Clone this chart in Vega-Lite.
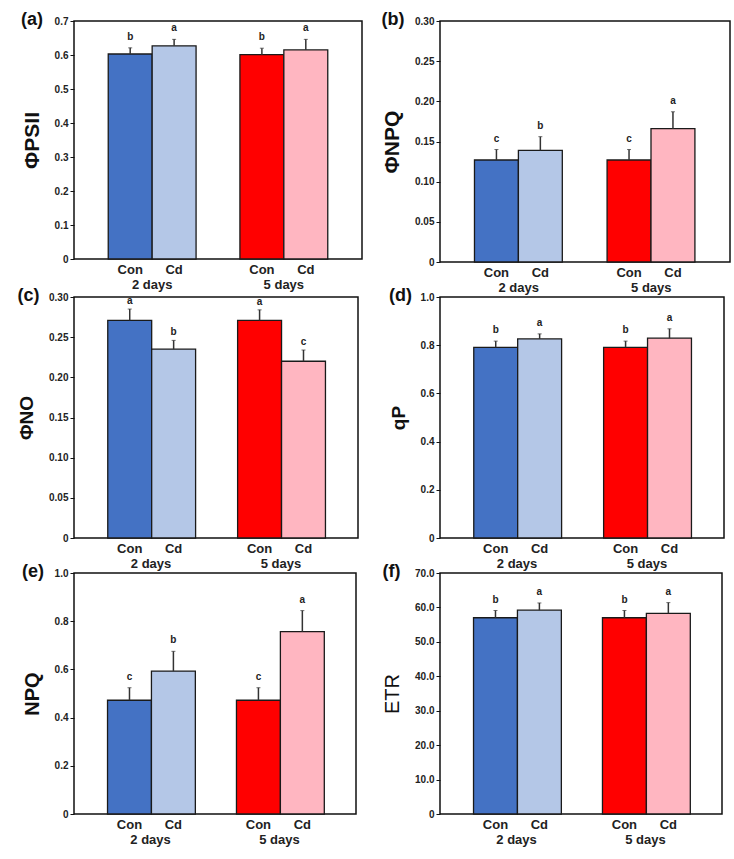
{
  "$schema": "https://vega.github.io/schema/vega-lite/v6.json",
  "background": "white",
  "padding": {"left": 16, "top": 10, "right": 5, "bottom": 5},
  "config": {
    "font": "Liberation Sans",
    "view": {"stroke": "#111", "strokeWidth": 1.5},
    "axis": {"grid": false, "labelFont": "Liberation Sans", "titleFont": "Liberation Sans", "labelColor": "#222", "titleColor": "#111", "labelOverlap": false},
    "title": {"font": "Liberation Sans", "fontSize": 18, "fontWeight": "bold", "color": "#111", "anchor": "start", "frame": "bounds", "offset": -13}
  },
  "datasets": {
    "d": [
      {"panel": "a", "day": "2 days", "trt": "Con", "cond": "Con 2", "mean": 0.603, "hi": 0.621, "letter": "b"},
      {"panel": "a", "day": "2 days", "trt": "Cd", "cond": "Cd 2", "mean": 0.627, "hi": 0.646, "letter": "a"},
      {"panel": "a", "day": "5 days", "trt": "Con", "cond": "Con 5", "mean": 0.601, "hi": 0.620, "letter": "b"},
      {"panel": "a", "day": "5 days", "trt": "Cd", "cond": "Cd 5", "mean": 0.615, "hi": 0.646, "letter": "a"},
      {"panel": "b", "day": "2 days", "trt": "Con", "cond": "Con 2", "mean": 0.127, "hi": 0.140, "letter": "c"},
      {"panel": "b", "day": "2 days", "trt": "Cd", "cond": "Cd 2", "mean": 0.139, "hi": 0.156, "letter": "b"},
      {"panel": "b", "day": "5 days", "trt": "Con", "cond": "Con 5", "mean": 0.127, "hi": 0.140, "letter": "c"},
      {"panel": "b", "day": "5 days", "trt": "Cd", "cond": "Cd 5", "mean": 0.166, "hi": 0.187, "letter": "a"},
      {"panel": "c", "day": "2 days", "trt": "Con", "cond": "Con 2", "mean": 0.271, "hi": 0.285, "letter": "a"},
      {"panel": "c", "day": "2 days", "trt": "Cd", "cond": "Cd 2", "mean": 0.235, "hi": 0.246, "letter": "b"},
      {"panel": "c", "day": "5 days", "trt": "Con", "cond": "Con 5", "mean": 0.271, "hi": 0.284, "letter": "a"},
      {"panel": "c", "day": "5 days", "trt": "Cd", "cond": "Cd 5", "mean": 0.220, "hi": 0.234, "letter": "c"},
      {"panel": "d", "day": "2 days", "trt": "Con", "cond": "Con 2", "mean": 0.791, "hi": 0.817, "letter": "b"},
      {"panel": "d", "day": "2 days", "trt": "Cd", "cond": "Cd 2", "mean": 0.826, "hi": 0.847, "letter": "a"},
      {"panel": "d", "day": "5 days", "trt": "Con", "cond": "Con 5", "mean": 0.791, "hi": 0.817, "letter": "b"},
      {"panel": "d", "day": "5 days", "trt": "Cd", "cond": "Cd 5", "mean": 0.829, "hi": 0.868, "letter": "a"},
      {"panel": "e", "day": "2 days", "trt": "Con", "cond": "Con 2", "mean": 0.472, "hi": 0.524, "letter": "c"},
      {"panel": "e", "day": "2 days", "trt": "Cd", "cond": "Cd 2", "mean": 0.593, "hi": 0.675, "letter": "b"},
      {"panel": "e", "day": "5 days", "trt": "Con", "cond": "Con 5", "mean": 0.472, "hi": 0.524, "letter": "c"},
      {"panel": "e", "day": "5 days", "trt": "Cd", "cond": "Cd 5", "mean": 0.757, "hi": 0.844, "letter": "a"},
      {"panel": "f", "day": "2 days", "trt": "Con", "cond": "Con 2", "mean": 57.0, "hi": 59.1, "letter": "b"},
      {"panel": "f", "day": "2 days", "trt": "Cd", "cond": "Cd 2", "mean": 59.2, "hi": 61.3, "letter": "a"},
      {"panel": "f", "day": "5 days", "trt": "Con", "cond": "Con 5", "mean": 57.0, "hi": 59.1, "letter": "b"},
      {"panel": "f", "day": "5 days", "trt": "Cd", "cond": "Cd 5", "mean": 58.3, "hi": 61.4, "letter": "a"}
    ]
  },
  "columns": 2,
  "bounds": "flush",
  "spacing": {"row": 35, "column": 78},
  "concat": [
    {
      "title": {"text": "(a)"},
      "width": 288, "height": 238,
      "data": {"name": "d"},
      "transform": [{"filter": "datum.panel == 'a'"}],
      "encoding": {
        "x": {"field": "day", "type": "nominal", "scale": {"domain": ["2 days", "5 days"], "paddingInner": 0.333, "paddingOuter": 0.26}, "axis": {"title": null, "labelAngle": 0, "labelFontSize": 13, "labelFontWeight": "bold", "labelPadding": 19, "ticks": false, "domain": false}},
        "xOffset": {"field": "trt", "type": "nominal", "scale": {"domain": ["Con", "Cd"], "paddingInner": 0, "paddingOuter": 0}}
      },
      "layer": [
        {"mark": {"type": "bar", "stroke": "#1a1a1a", "strokeWidth": 1.3},
         "encoding": {
           "y": {"field": "mean", "type": "quantitative", "scale": {"domain": [0, 0.7]}, "axis": {"title": "ΦPSII", "titleFontSize": 21, "titleFontWeight": "bold", "titlePadding": 12, "values": [0, 0.1, 0.2, 0.3, 0.4, 0.5, 0.6, 0.7], "tickCount": 12, "labelOverlap": false, "labelExpr": "datum.value == 0 ? '0' : format(datum.value, '.1f')", "labelFontSize": 10, "labelFontWeight": "bold", "tickSize": 4, "tickColor": "#111", "domain": false}},
           "color": {"field": "cond", "type": "nominal", "scale": {"domain": ["Con 2", "Cd 2", "Con 5", "Cd 5"], "range": ["#4472C4", "#B4C7E7", "#FF0000", "#FFB6C1"]}, "legend": null}}},
        {"mark": {"type": "rule", "color": "#333", "strokeWidth": 1.5}, "encoding": {"y": {"field": "mean", "type": "quantitative"}, "y2": {"field": "hi"}}},
        {"mark": {"type": "tick", "color": "#333", "size": 4, "thickness": 1}, "encoding": {"y": {"field": "hi", "type": "quantitative"}}},
        {"mark": {"type": "text", "fontSize": 10, "fontWeight": "bold", "dy": -8, "baseline": "alphabetic", "color": "#222"}, "encoding": {"y": {"field": "hi", "type": "quantitative"}, "text": {"field": "letter"}}},
        {"mark": {"type": "text", "fontSize": 13, "fontWeight": "bold", "baseline": "top", "dy": 5, "color": "#222"}, "encoding": {"y": {"datum": 0}, "text": {"field": "trt"}}}
      ]
    },
    {
      "title": {"text": "(b)"},
      "width": 290, "height": 241,
      "data": {"name": "d"},
      "transform": [{"filter": "datum.panel == 'b'"}],
      "encoding": {
        "x": {"field": "day", "type": "nominal", "scale": {"domain": ["2 days", "5 days"], "paddingInner": 0.333, "paddingOuter": 0.26}, "axis": {"title": null, "labelAngle": 0, "labelFontSize": 13, "labelFontWeight": "bold", "labelPadding": 19, "ticks": false, "domain": false}},
        "xOffset": {"field": "trt", "type": "nominal", "scale": {"domain": ["Con", "Cd"], "paddingInner": 0, "paddingOuter": 0}}
      },
      "layer": [
        {"mark": {"type": "bar", "stroke": "#1a1a1a", "strokeWidth": 1.3},
         "encoding": {
           "y": {"field": "mean", "type": "quantitative", "scale": {"domain": [0, 0.3]}, "axis": {"title": "ΦNPQ", "titleFontSize": 21, "titleFontWeight": "bold", "titlePadding": 12, "values": [0, 0.05, 0.1, 0.15, 0.2, 0.25, 0.3], "tickCount": 12, "labelOverlap": false, "labelExpr": "datum.value == 0 ? '0' : format(datum.value, '.2f')", "labelFontSize": 10, "labelFontWeight": "bold", "tickSize": 4, "tickColor": "#111", "domain": false}},
           "color": {"field": "cond", "type": "nominal", "scale": {"domain": ["Con 2", "Cd 2", "Con 5", "Cd 5"], "range": ["#4472C4", "#B4C7E7", "#FF0000", "#FFB6C1"]}, "legend": null}}},
        {"mark": {"type": "rule", "color": "#333", "strokeWidth": 1.5}, "encoding": {"y": {"field": "mean", "type": "quantitative"}, "y2": {"field": "hi"}}},
        {"mark": {"type": "tick", "color": "#333", "size": 4, "thickness": 1}, "encoding": {"y": {"field": "hi", "type": "quantitative"}}},
        {"mark": {"type": "text", "fontSize": 10, "fontWeight": "bold", "dy": -8, "baseline": "alphabetic", "color": "#222"}, "encoding": {"y": {"field": "hi", "type": "quantitative"}, "text": {"field": "letter"}}},
        {"mark": {"type": "text", "fontSize": 13, "fontWeight": "bold", "baseline": "top", "dy": 5, "color": "#222"}, "encoding": {"y": {"datum": 0}, "text": {"field": "trt"}}}
      ]
    },
    {
      "title": {"text": "(c)"},
      "width": 284, "height": 241,
      "data": {"name": "d"},
      "transform": [{"filter": "datum.panel == 'c'"}],
      "encoding": {
        "x": {"field": "day", "type": "nominal", "scale": {"domain": ["2 days", "5 days"], "paddingInner": 0.333, "paddingOuter": 0.26}, "axis": {"title": null, "labelAngle": 0, "labelFontSize": 13, "labelFontWeight": "bold", "labelPadding": 19, "ticks": false, "domain": false}},
        "xOffset": {"field": "trt", "type": "nominal", "scale": {"domain": ["Con", "Cd"], "paddingInner": 0, "paddingOuter": 0}}
      },
      "layer": [
        {"mark": {"type": "bar", "stroke": "#1a1a1a", "strokeWidth": 1.3},
         "encoding": {
           "y": {"field": "mean", "type": "quantitative", "scale": {"domain": [0, 0.3]}, "axis": {"title": "ΦNO", "titleFontSize": 19, "titleFontWeight": "bold", "titlePadding": 12, "values": [0, 0.05, 0.1, 0.15, 0.2, 0.25, 0.3], "tickCount": 12, "labelOverlap": false, "labelExpr": "datum.value == 0 ? '0' : format(datum.value, '.2f')", "labelFontSize": 10, "labelFontWeight": "bold", "tickSize": 4, "tickColor": "#111", "domain": false}},
           "color": {"field": "cond", "type": "nominal", "scale": {"domain": ["Con 2", "Cd 2", "Con 5", "Cd 5"], "range": ["#4472C4", "#B4C7E7", "#FF0000", "#FFB6C1"]}, "legend": null}}},
        {"mark": {"type": "rule", "color": "#333", "strokeWidth": 1.5}, "encoding": {"y": {"field": "mean", "type": "quantitative"}, "y2": {"field": "hi"}}},
        {"mark": {"type": "tick", "color": "#333", "size": 4, "thickness": 1}, "encoding": {"y": {"field": "hi", "type": "quantitative"}}},
        {"mark": {"type": "text", "fontSize": 10, "fontWeight": "bold", "dy": -5, "baseline": "alphabetic", "color": "#222"}, "encoding": {"y": {"field": "hi", "type": "quantitative"}, "text": {"field": "letter"}}},
        {"mark": {"type": "text", "fontSize": 13, "fontWeight": "bold", "baseline": "top", "dy": 5, "color": "#222"}, "encoding": {"y": {"datum": 0}, "text": {"field": "trt"}}}
      ]
    },
    {
      "title": {"text": "(d)"},
      "width": 284, "height": 241,
      "data": {"name": "d"},
      "transform": [{"filter": "datum.panel == 'd'"}],
      "encoding": {
        "x": {"field": "day", "type": "nominal", "scale": {"domain": ["2 days", "5 days"], "paddingInner": 0.333, "paddingOuter": 0.26}, "axis": {"title": null, "labelAngle": 0, "labelFontSize": 13, "labelFontWeight": "bold", "labelPadding": 19, "ticks": false, "domain": false}},
        "xOffset": {"field": "trt", "type": "nominal", "scale": {"domain": ["Con", "Cd"], "paddingInner": 0, "paddingOuter": 0}}
      },
      "layer": [
        {"mark": {"type": "bar", "stroke": "#1a1a1a", "strokeWidth": 1.3},
         "encoding": {
           "y": {"field": "mean", "type": "quantitative", "scale": {"domain": [0, 1]}, "axis": {"title": "qP", "titleFontSize": 19, "titleFontWeight": "bold", "titlePadding": 12, "values": [0, 0.2, 0.4, 0.6, 0.8, 1], "tickCount": 12, "labelOverlap": false, "labelExpr": "datum.value == 0 ? '0' : format(datum.value, '.1f')", "labelFontSize": 10, "labelFontWeight": "bold", "tickSize": 4, "tickColor": "#111", "domain": false}},
           "color": {"field": "cond", "type": "nominal", "scale": {"domain": ["Con 2", "Cd 2", "Con 5", "Cd 5"], "range": ["#4472C4", "#B4C7E7", "#FF0000", "#FFB6C1"]}, "legend": null}}},
        {"mark": {"type": "rule", "color": "#333", "strokeWidth": 1.5}, "encoding": {"y": {"field": "mean", "type": "quantitative"}, "y2": {"field": "hi"}}},
        {"mark": {"type": "tick", "color": "#333", "size": 4, "thickness": 1}, "encoding": {"y": {"field": "hi", "type": "quantitative"}}},
        {"mark": {"type": "text", "fontSize": 10, "fontWeight": "bold", "dy": -8, "baseline": "alphabetic", "color": "#222"}, "encoding": {"y": {"field": "hi", "type": "quantitative"}, "text": {"field": "letter"}}},
        {"mark": {"type": "text", "fontSize": 13, "fontWeight": "bold", "baseline": "top", "dy": 5, "color": "#222"}, "encoding": {"y": {"datum": 0}, "text": {"field": "trt"}}}
      ]
    },
    {
      "title": {"text": "(e)"},
      "width": 282, "height": 241,
      "data": {"name": "d"},
      "transform": [{"filter": "datum.panel == 'e'"}],
      "encoding": {
        "x": {"field": "day", "type": "nominal", "scale": {"domain": ["2 days", "5 days"], "paddingInner": 0.333, "paddingOuter": 0.26}, "axis": {"title": null, "labelAngle": 0, "labelFontSize": 13, "labelFontWeight": "bold", "labelPadding": 19, "ticks": false, "domain": false}},
        "xOffset": {"field": "trt", "type": "nominal", "scale": {"domain": ["Con", "Cd"], "paddingInner": 0, "paddingOuter": 0}}
      },
      "layer": [
        {"mark": {"type": "bar", "stroke": "#1a1a1a", "strokeWidth": 1.3},
         "encoding": {
           "y": {"field": "mean", "type": "quantitative", "scale": {"domain": [0, 1]}, "axis": {"title": "NPQ", "titleFontSize": 20, "titleFontWeight": "bold", "titlePadding": 12, "values": [0, 0.2, 0.4, 0.6, 0.8, 1], "tickCount": 12, "labelOverlap": false, "labelExpr": "datum.value == 0 ? '0' : format(datum.value, '.1f')", "labelFontSize": 10, "labelFontWeight": "bold", "tickSize": 4, "tickColor": "#111", "domain": false}},
           "color": {"field": "cond", "type": "nominal", "scale": {"domain": ["Con 2", "Cd 2", "Con 5", "Cd 5"], "range": ["#4472C4", "#B4C7E7", "#FF0000", "#FFB6C1"]}, "legend": null}}},
        {"mark": {"type": "rule", "color": "#333", "strokeWidth": 1.5}, "encoding": {"y": {"field": "mean", "type": "quantitative"}, "y2": {"field": "hi"}}},
        {"mark": {"type": "tick", "color": "#333", "size": 4, "thickness": 1}, "encoding": {"y": {"field": "hi", "type": "quantitative"}}},
        {"mark": {"type": "text", "fontSize": 10, "fontWeight": "bold", "dy": -8, "baseline": "alphabetic", "color": "#222"}, "encoding": {"y": {"field": "hi", "type": "quantitative"}, "text": {"field": "letter"}}},
        {"mark": {"type": "text", "fontSize": 13, "fontWeight": "bold", "baseline": "top", "dy": 5, "color": "#222"}, "encoding": {"y": {"datum": 0}, "text": {"field": "trt"}}}
      ]
    },
    {
      "title": {"text": "(f)"},
      "width": 282, "height": 241,
      "data": {"name": "d"},
      "transform": [{"filter": "datum.panel == 'f'"}],
      "encoding": {
        "x": {"field": "day", "type": "nominal", "scale": {"domain": ["2 days", "5 days"], "paddingInner": 0.333, "paddingOuter": 0.26}, "axis": {"title": null, "labelAngle": 0, "labelFontSize": 13, "labelFontWeight": "bold", "labelPadding": 19, "ticks": false, "domain": false}},
        "xOffset": {"field": "trt", "type": "nominal", "scale": {"domain": ["Con", "Cd"], "paddingInner": 0, "paddingOuter": 0}}
      },
      "layer": [
        {"mark": {"type": "bar", "stroke": "#1a1a1a", "strokeWidth": 1.3},
         "encoding": {
           "y": {"field": "mean", "type": "quantitative", "scale": {"domain": [0, 70]}, "axis": {"title": "ETR", "titleFontSize": 20, "titleFontWeight": "normal", "titlePadding": 12, "values": [0, 10, 20, 30, 40, 50, 60, 70], "tickCount": 12, "labelOverlap": false, "labelExpr": "datum.value == 0 ? '0' : format(datum.value, '.1f')", "labelFontSize": 10, "labelFontWeight": "bold", "tickSize": 4, "tickColor": "#111", "domain": false}},
           "color": {"field": "cond", "type": "nominal", "scale": {"domain": ["Con 2", "Cd 2", "Con 5", "Cd 5"], "range": ["#4472C4", "#B4C7E7", "#FF0000", "#FFB6C1"]}, "legend": null}}},
        {"mark": {"type": "rule", "color": "#333", "strokeWidth": 1.5}, "encoding": {"y": {"field": "mean", "type": "quantitative"}, "y2": {"field": "hi"}}},
        {"mark": {"type": "tick", "color": "#333", "size": 4, "thickness": 1}, "encoding": {"y": {"field": "hi", "type": "quantitative"}}},
        {"mark": {"type": "text", "fontSize": 10, "fontWeight": "bold", "dy": -8, "baseline": "alphabetic", "color": "#222"}, "encoding": {"y": {"field": "hi", "type": "quantitative"}, "text": {"field": "letter"}}},
        {"mark": {"type": "text", "fontSize": 13, "fontWeight": "bold", "baseline": "top", "dy": 5, "color": "#222"}, "encoding": {"y": {"datum": 0}, "text": {"field": "trt"}}}
      ]
    }
  ]
}
